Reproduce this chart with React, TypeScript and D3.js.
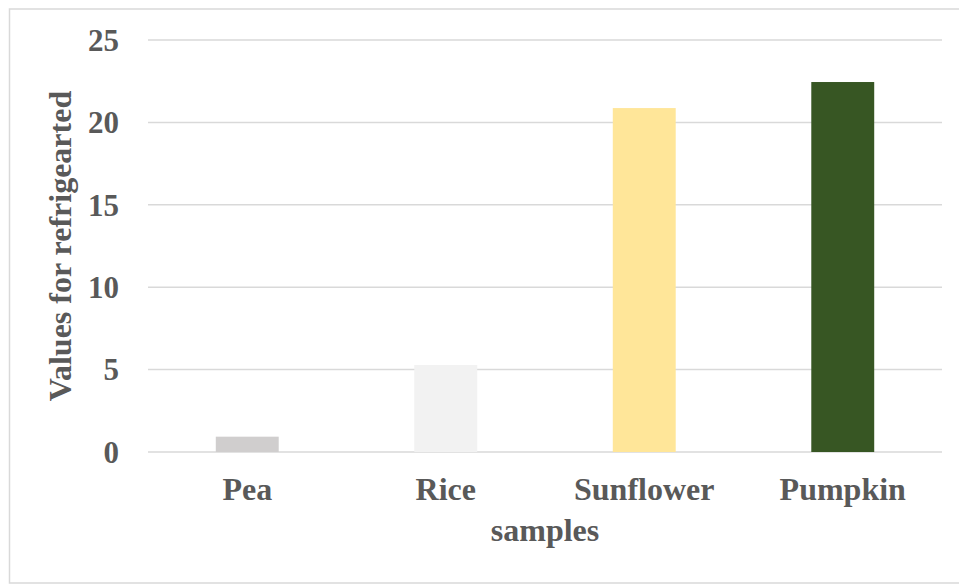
import React from "react";
import * as d3 from "d3";

const categories: string[] = ["Pea", "Rice", "Sunflower", "Pumpkin"];
const values: number[] = [0.93, 5.28, 20.87, 22.45];
const barColors: string[] = ["#d0cece", "#f2f2f2", "#ffe699", "#375623"];
const yTicks: number[] = [0, 5, 10, 15, 20, 25];
const xTitle = "samples";
const yTitle = "Values for refrigearted";

const W = 959;
const H = 584;
const plot = { left: 148, right: 942, top: 40, bottom: 452 };
const textColor = "#595959";
const gridColor = "#d9d9d9";
const font = "'Liberation Serif', 'Times New Roman', serif";

export default function App() {
  const x = d3
    .scaleBand<string>()
    .domain(categories)
    .range([plot.left, plot.right])
    .paddingInner(0)
    .paddingOuter(0);
  const y = d3.scaleLinear().domain([0, 25]).range([plot.bottom, plot.top]);
  const barW = x.bandwidth() * 0.317;

  return (
    <svg
      width={W}
      height={H}
      style={{ position: "absolute", left: 0, top: 0, background: "#fff" }}
    >
      <rect x={9.5} y={9} width={W + 10} height={574} fill="#fff" stroke={gridColor} strokeWidth={1.5} />
      {yTicks.map((t) => (
        <g key={t}>
          <line
            x1={plot.left}
            x2={plot.right}
            y1={y(t)}
            y2={y(t)}
            stroke={gridColor}
            strokeWidth={1.5}
          />
          <text
            x={119}
            y={y(t)}
            dy="0.35em"
            textAnchor="end"
            fontFamily={font}
            fontWeight="bold"
            fontSize={31}
            fill={textColor}
          >
            {t}
          </text>
        </g>
      ))}
      {categories.map((c, i) => {
        const cx = (x(c) as number) + x.bandwidth() / 2;
        return (
          <g key={c}>
            <rect
              x={cx - barW / 2}
              y={y(values[i])}
              width={barW}
              height={y(0) - y(values[i])}
              fill={barColors[i]}
            />
            <text
              x={cx}
              y={500}
              textAnchor="middle"
              fontFamily={font}
              fontWeight="bold"
              fontSize={32}
              fill={textColor}
            >
              {c}
            </text>
          </g>
        );
      })}
      <text
        x={(plot.left + plot.right) / 2}
        y={541}
        textAnchor="middle"
        fontFamily={font}
        fontWeight="bold"
        fontSize={32}
        fill={textColor}
      >
        {xTitle}
      </text>
      <text
        transform={`translate(71, ${(plot.top + plot.bottom) / 2}) rotate(-90)`}
        textAnchor="middle"
        fontFamily={font}
        fontWeight="bold"
        fontSize={32}
        fill={textColor}
      >
        {yTitle}
      </text>
    </svg>
  );
}
